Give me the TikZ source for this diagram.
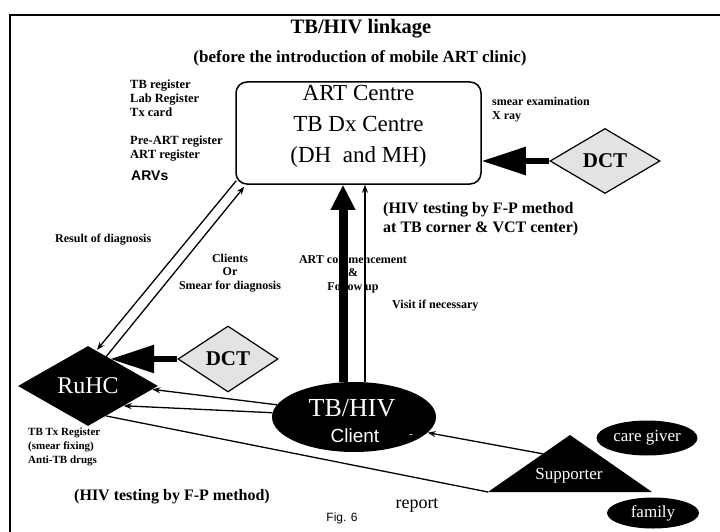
\documentclass[tikz,border=0pt]{standalone}
\usepackage{fontspec}
\setmainfont{Liberation Serif}
\newfontfamily\arialfont{Liberation Sans}
\usetikzlibrary{shapes.geometric,arrows.meta,calc}

\begin{document}
\begin{tikzpicture}[x=1pt,y=-1pt,
  small/.style={font=\bfseries\fontsize{12}{14}\selectfont, align=left, inner sep=0pt},
  smallc/.style={font=\bfseries\fontsize{12}{13.5}\selectfont, align=center, inner sep=0pt},
  note/.style={font=\bfseries\fontsize{16}{19}\selectfont, align=left, inner sep=0pt},
  darkshape/.style={fill=black, text=white, inner sep=0pt},
  dctbox/.style={diamond, draw=black, line width=1.2pt, fill=gray!22, shape aspect=1.6,
                 inner sep=0pt, font=\bfseries\fontsize{21}{21}\selectfont},
  fatarrow/.style={line width=6pt, -{Triangle[length=44pt,width=27pt]}},
  bigup/.style={line width=9pt, -{Triangle[length=25pt,width=23pt]}},
  thin/.style={line width=1.3pt, -{Stealth[length=8pt,width=6pt]}},
  plain/.style={line width=1.3pt}
]
\useasboundingbox (0,0) rectangle (720,532);
\fill[white] (0,0) rectangle (720,532);

% frame
\draw[line width=1.5pt] (10,532) -- (10,15) -- (720,15);

% headings
\node[font=\bfseries\fontsize{20.5}{20.5}\selectfont] (title) at (361,29) {TB/HIV linkage};
\node[font=\bfseries\fontsize{17}{17}\selectfont] (subtitle) at (360,58) {(before the introduction of mobile ART clinic)};

% centre
\node[draw, line width=1.5pt, rounded corners=11pt, minimum width=245pt, minimum height=102pt] (art) at (358.5,133) {};
\node[align=center, font=\fontsize{23}{31}\selectfont, inner sep=0pt] (artt) at (358.5,126)
      {ART Centre\\TB Dx Centre\\(DH\ \ and MH)};

% registers and notes
\node[small, font=\bfseries\fontsize{12.5}{14}\selectfont, anchor=west] (reg1) at (130,98) {TB register\\Lab Register\\Tx card};
\node[small, font=\bfseries\fontsize{12.5}{14}\selectfont, anchor=west] (reg2) at (130,149) {Pre-ART register\\ART register};
\node[font=\arialfont\bfseries\fontsize{14}{14}\selectfont, anchor=west, inner sep=0pt] (arvs) at (131,176) {ARVs};
\node[small, anchor=west] (smear) at (492,110) {smear examination\\X ray};
\node[small, anchor=west] (result) at (55,240) {Result of diagnosis};
\node[smallc] (clients) at (230,273) {Clients\\Or\\Smear for diagnosis};
\node[small, anchor=west] (visit) at (392,306) {Visit if necessary};
\node[note, anchor=west] (hivtop) at (383,219) {(HIV testing by F-P method\\at TB corner \& VCT center)};
\node[small, font=\bfseries\fontsize{11}{14}\selectfont, anchor=west] (txreg) at (28,447) {TB Tx Register\\(smear fixing)\\Anti-TB drugs};
\node[note] (hivbot) at (172,497) {(HIV testing by F-P method)};
\node[font=\arialfont\fontsize{12}{12}\selectfont] (fig) at (342,518) {Fig. 6};
\node[font=\fontsize{18}{18}\selectfont] (report) at (417,505) {report};

% DCT units
\node[dctbox, minimum width=110pt, minimum height=65pt] (dcta) at (605,161) {DCT};
\node[dctbox, minimum width=100pt, minimum height=66pt] (dctb) at (228,359) {DCT};

% RuHC
\node[darkshape, diamond, shape aspect=1.75, minimum width=140pt, minimum height=80pt,
      font=\fontsize{24}{24}\selectfont] (ruhc) at (88,386) {RuHC};

% client
\node[ellipse, fill=black, minimum width=164pt, minimum height=70pt, inner sep=0pt] (client) at (354,417) {};
\node[text=white, font=\fontsize{26}{26}\selectfont, inner sep=0pt] (clienta) at (352,408) {TB/HIV};
\node[text=white, font=\arialfont\fontsize{19}{19}\selectfont, inner sep=0pt] (clientb) at (355,436) {Client};
\node[text=white, font=\bfseries\fontsize{10}{10}\selectfont, inner sep=0pt] (mark) at (411,436) {-};

% supporter and helpers
\coordinate (supL) at (488,492);
\coordinate (supT) at (570,435);
\coordinate (supR) at (652,492);
\fill[black] (supL) -- (supT) -- (supR) -- cycle;
\node[text=white, font=\fontsize{17}{17}\selectfont, inner sep=0pt] (sup) at (569,476) {Supporter};
\node[darkshape, ellipse, minimum width=101pt, minimum height=35pt, font=\fontsize{17}{17}\selectfont] (care) at (647,438) {care giver};
\node[darkshape, ellipse, minimum width=92pt, minimum height=31pt, font=\fontsize{17}{17}\selectfont] (family) at (653,513) {family};

% thick arrows
\draw[fatarrow] (dcta.west) -- (dcta.west -| art.east);
\draw[fatarrow] (dctb.west) -- (ruhc.51 |- dctb.west);
\draw[bigup] ([xshift=-11pt]client.north) -- ([xshift=-11pt]client.north |- art.south);
\draw[thin] ([xshift=11pt]client.north) -- ([xshift=11pt]client.north |- art.south);

% double link RuHC <-> centre
\draw[thin] ($(art.south west)+(1,-4)$) -- ($(ruhc.north)+(9,4)$);
\draw[thin] ($(ruhc.north)+(18,11)$) -- ($(art.south west)+(9,2)$);

% client to RuHC
\draw[thin] (client.171) -- (ruhc.-3);
\draw[thin] (client.177) -- (ruhc.-29);
\draw[plain] (ruhc.-59) -- (supL);
\draw[thin] ($(supL)!0.67!(supT)$) -- (client.-12);

% labels crossed by the vertical arrows
\node[smallc] (artc) at (353,274) {ART commencement\\\&\\Follow up};
\draw[line width=9pt] ([xshift=-11pt]client.north |- artc.north) -- ([xshift=-11pt]client.north |- artc.south);
\draw[line width=1.3pt] ([xshift=11pt]client.north |- artc.north) -- ([xshift=11pt]client.north |- artc.south);
\end{tikzpicture}
\end{document}
